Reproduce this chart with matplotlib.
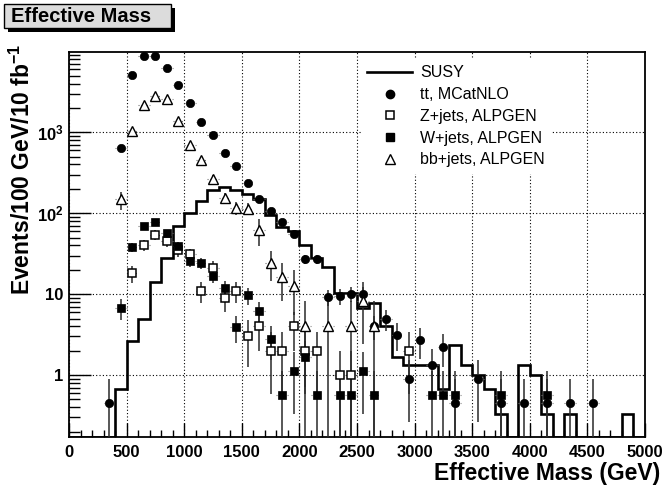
import numpy as np
import matplotlib
matplotlib.use("Agg")
import matplotlib.pyplot as plt
from matplotlib.lines import Line2D
from matplotlib.patches import Rectangle
from matplotlib.ticker import FixedLocator, MultipleLocator, LogLocator, NullFormatter

plt.rcParams["font.family"] = ["Liberation Sans", "DejaVu Sans"]
plt.rcParams["mathtext.fontset"] = "custom"
plt.rcParams["mathtext.rm"] = "Liberation Sans:bold"
plt.rcParams["mathtext.bf"] = "Liberation Sans:bold"
plt.rcParams["mathtext.it"] = "Liberation Sans:bold"

# ---- data ----
# SUSY histogram, 100 GeV bins from 0 to 5000
susy_edges = np.arange(0, 5001, 100)
susy_vals = [0, 0, 0, 0, 0.67, 2.67, 5.0, 14, 27.7, 69,
             100, 142, 193, 211, 192, 175, 150, 94.5, 67, 60,
             40, 28, 21.7, 10.2, 10.2, 6.67, 7.67, 4.0, 1.67, 1.33,
             1.33, 1.33, 0.67, 2.33, 1.33, 1.0, 0.67, 0.33, 0, 1.33,
             1.0, 0.33, 0, 0.33, 0, 0, 0, 0, 0.33, 0]

tt_x = [350, 450, 550, 650, 750, 850, 950, 1050, 1150, 1250, 1350, 1450,
        1550, 1650, 1750, 1850, 1950, 2050, 2150, 2250, 2350, 2450, 2550,
        2650, 2750, 2850, 2950, 3050, 3150, 3250, 3350, 3550, 3750, 3950,
        4150, 4350, 4550]
tt_y = [0.45, 647, 5150, 8850, 8670, 6220, 3840, 2300, 1340, 926, 561, 384,
        239, 150, 106, 77, 55, 26.8, 27, 9.1, 9.5, 10.1, 10.1,
        4.05, 4.95, 3.15, 0.9, 2.7, 1.35, 2.25, 0.45, 0.9, 0.45, 0.45,
        0.45, 0.45, 0.45]
tt_w = 0.45

z_x = [550, 650, 750, 850, 950, 1050, 1150, 1250, 1350, 1450, 1550, 1650,
       1750, 1850, 1950, 2050, 2150, 2350, 2450, 2950]
z_y = [18, 40, 54, 45, 35, 31, 11, 21, 9, 11, 3, 4,
       2, 2, 4, 2, 2, 1, 1, 2]
z_w = 1.0

w_x = [450, 550, 650, 750, 850, 950, 1050, 1150, 1250, 1350, 1450, 1550,
       1650, 1750, 1850, 1950, 2050, 2150, 2350, 2450, 2550, 2650, 3150,
       3250, 3350, 3750, 4150]
w_y = [6.8, 37.7, 69, 77, 57, 39, 25.5, 24, 17, 12, 3.95, 9.7,
       6.2, 2.8, 0.56, 1.12, 1.68, 0.56, 0.56, 0.56, 1.12, 0.56, 0.56,
       0.56, 0.56, 0.56, 0.56]
w_w = 0.56

bb_x = [450, 550, 650, 750, 850, 950, 1050, 1150, 1250, 1350, 1450, 1550,
        1650, 1750, 1850, 1950, 2050, 2250, 2450, 2550, 2650]
bb_y = [148, 1040, 2180, 2770, 2550, 1390, 700, 451, 262, 155, 117, 114,
        62, 24.6, 16.4, 12.7, 4.1, 4.1, 4.1, 8.2, 4.1]
bb_err = [37, 65, 95, 107, 100, 75, 53, 43, 33, 25, 22, 20,
          23, 10, 8.2, 7.2, 4.1, 4.1, 4.1, 5.8, 4.1]

YMIN, YMAX = 0.172, 9800
W, H = 666, 488


def fx(px):
    return px / W


def fy(py):
    return 1 - py / H


fig = plt.figure(figsize=(6.66, 4.88), dpi=100)
ax = fig.add_axes([fx(69), fy(437), fx(645) - fx(69), fy(52) - fy(437)])
ax.set_yscale("log")
ax.set_xlim(0, 5000)
ax.set_ylim(YMIN, YMAX)

# SUSY step histogram (empty bins sit on the frame bottom)
sv = np.array(susy_vals, dtype=float)
sv = np.where(sv > 0, sv, YMIN)
ax.stairs(sv, susy_edges, baseline=None, color="black", linewidth=1.9, zorder=3)


def draw_points(x, y, err, marker, face, size, mew):
    x = np.asarray(x, float)
    y = np.asarray(y, float)
    err = np.asarray(err, float)
    lo = np.minimum(err, y - YMIN * 0.5)
    eb = ax.errorbar(x, y, xerr=50, fmt="none", ecolor="0.45", elinewidth=0.8, zorder=4)
    eb[2][0].set_linestyle((0, (1, 1.5)))
    ax.errorbar(x, y, yerr=[lo, err], fmt="none", ecolor="#2a2a2a", elinewidth=1.1, zorder=4)
    ax.plot(x, y, linestyle="none", marker=marker, markersize=size,
            markerfacecolor=face, markeredgecolor="black", markeredgewidth=mew, zorder=5)


draw_points(tt_x, tt_y, np.sqrt(np.array(tt_y) * tt_w), "o", "black", 6.0, 0.5)
draw_points(z_x, z_y, np.sqrt(np.array(z_y) * z_w), "s", "white", 5.5, 1.1)
draw_points(w_x, w_y, np.sqrt(np.array(w_y) * w_w), "s", "black", 5.5, 0.5)
draw_points(bb_x, bb_y, bb_err, "^", "white", 7.0, 1.0)

# grid, ticks
ax.grid(True, which="major", linestyle=(0, (1, 2)), color="black", linewidth=0.8)
ax.xaxis.set_major_locator(MultipleLocator(500))
ax.xaxis.set_minor_locator(MultipleLocator(100))
ax.yaxis.set_major_locator(FixedLocator([1, 10, 100, 1000]))
ax.yaxis.set_minor_locator(LogLocator(base=10, subs=np.arange(2, 10)))
ax.yaxis.set_minor_formatter(NullFormatter())
ax.set_yticklabels(["1", "10", r"$10^{2}$", r"$10^{3}$"])
ax.set_xticks(np.arange(0, 5001, 500))
ax.set_xticklabels([str(v) for v in range(0, 5001, 500)])
ax.tick_params(axis="both", which="both", direction="in", top=False, right=False)
ax.tick_params(axis="x", which="major", length=10, width=1.0, labelsize=12, pad=6)
ax.tick_params(axis="x", which="minor", length=5, width=1.0)
ax.tick_params(axis="y", which="major", length=16, width=1.0, labelsize=12, pad=4)
ax.tick_params(axis="y", which="minor", length=8, width=1.0)
for lab in ax.get_xticklabels() + ax.get_yticklabels():
    lab.set_fontweight("bold")
for sp in ax.spines.values():
    sp.set_linewidth(1.3)

# axis titles
fig.text(fx(660), fy(480), "Effective Mass (GeV)", ha="right", va="baseline",
         fontsize=16.5, fontweight="bold")
fig.text(fx(22), fy(44), r"Events/100 GeV/10 fb$^{-1}$", ha="center", va="top",
         rotation=90, fontsize=16.5, fontweight="bold")

# legend
handles = [
    Line2D([], [], color="black", linewidth=1.9),
    Line2D([], [], linestyle="none", marker="o", markersize=6.0, color="black"),
    Line2D([], [], linestyle="none", marker="s", markersize=5.5,
           markerfacecolor="white", markeredgecolor="black", markeredgewidth=1.1),
    Line2D([], [], linestyle="none", marker="s", markersize=5.5, color="black"),
    Line2D([], [], linestyle="none", marker="^", markersize=7.0,
           markerfacecolor="white", markeredgecolor="black", markeredgewidth=1.0),
]
labels = ["SUSY", "tt, MCatNLO", "Z+jets, ALPGEN", "W+jets, ALPGEN", "bb+jets, ALPGEN"]
leg = ax.legend(handles, labels, loc="upper left", bbox_to_anchor=(fx(361), fy(59)),
                bbox_transform=fig.transFigure, borderaxespad=0, frameon=True,
                fancybox=False, edgecolor="none", facecolor="white", framealpha=1,
                fontsize=11.5, handlelength=2.8, handletextpad=0.5, labelspacing=0.42,
                borderpad=0.4)
leg.set_zorder(10)

# title pave with shadow
fig.add_artist(Rectangle((fx(8), fy(32)), fx(175) - fx(8), fy(8) - fy(32),
                         transform=fig.transFigure, facecolor="black", edgecolor="none"))
fig.add_artist(Rectangle((fx(4), fy(28)), fx(171) - fx(4), fy(4) - fy(28),
                         transform=fig.transFigure, facecolor="#dcdcdc",
                         edgecolor="black", linewidth=1.0))
fig.text(fx(11), fy(16.5), "Effective Mass", ha="left", va="center",
         fontsize=14.5, fontweight="bold")

fig.savefig("out.png", dpi=100)
